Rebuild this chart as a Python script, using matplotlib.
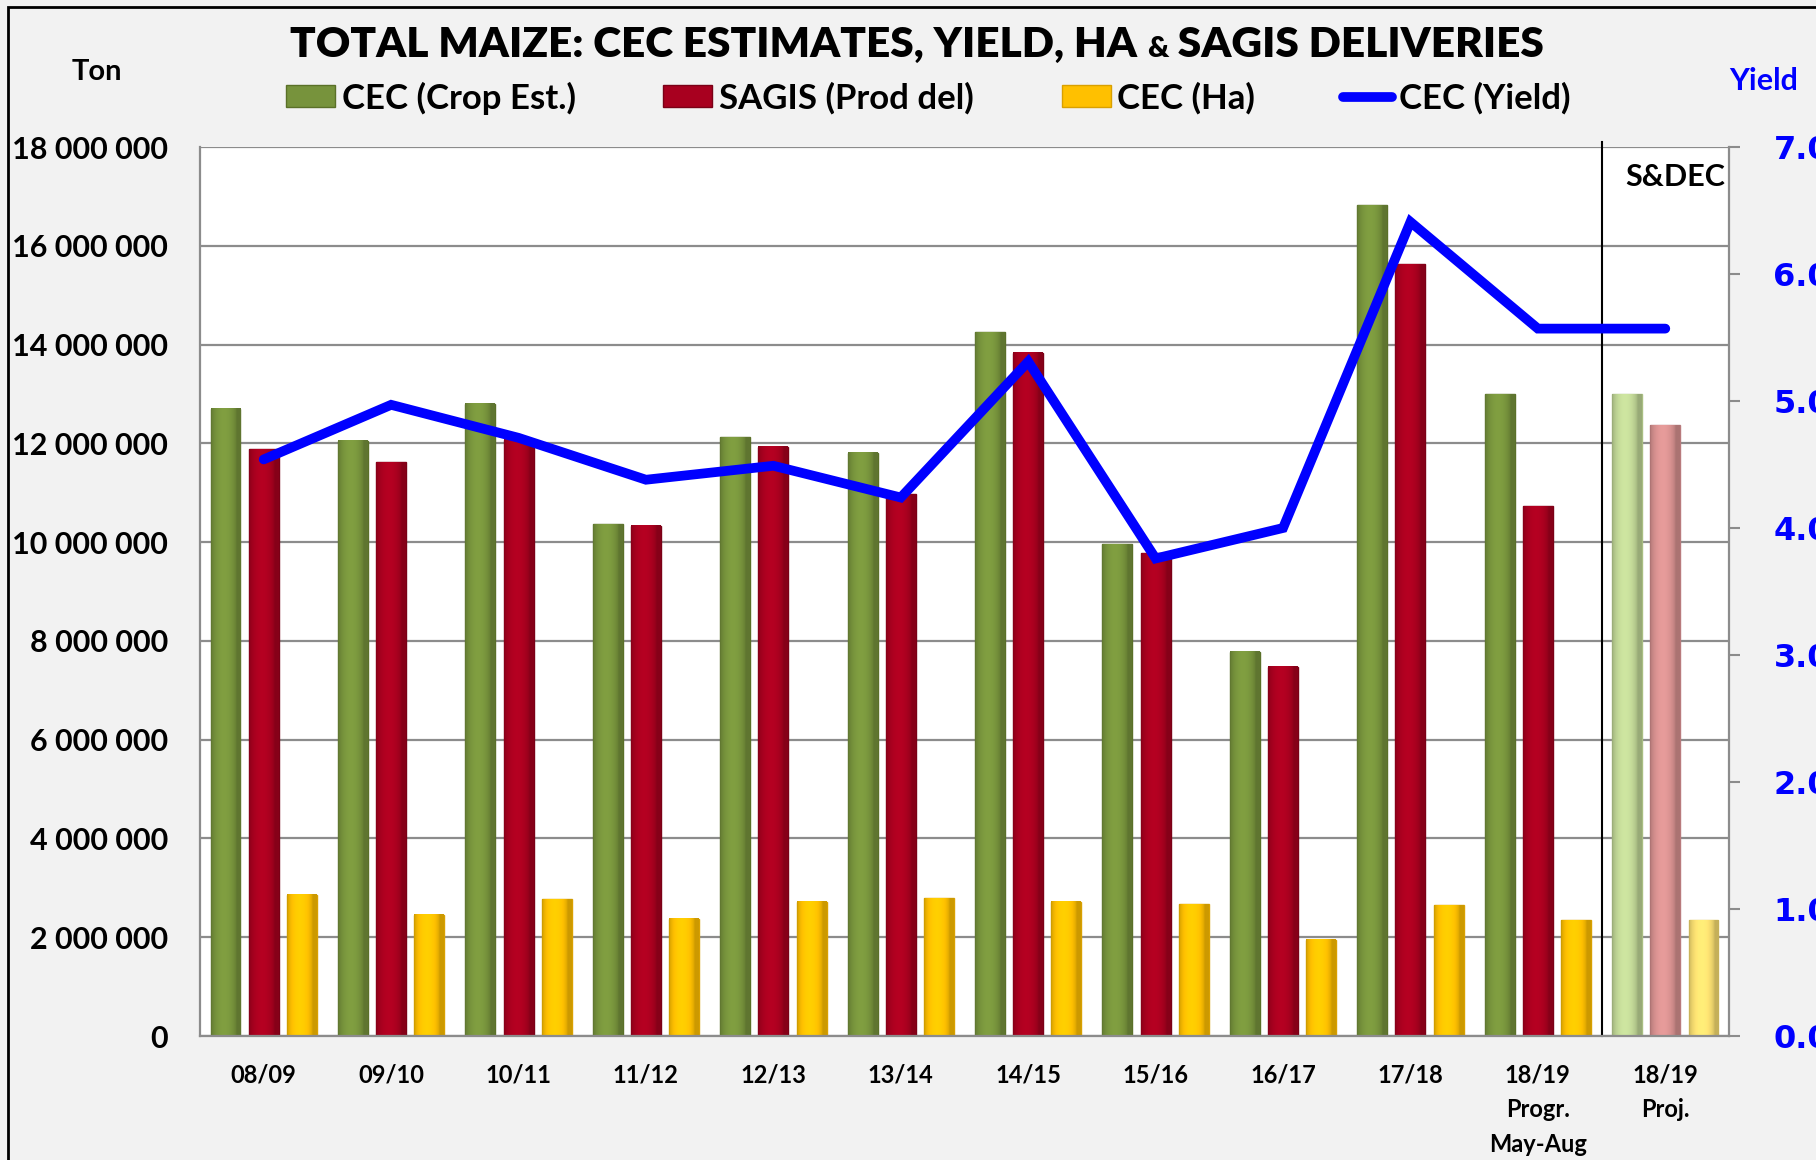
import matplotlib.pyplot as plt
from matplotlib.lines import Line2D
from matplotlib.patches import Patch, Rectangle
from matplotlib.ticker import FuncFormatter, MultipleLocator
from matplotlib.colors import to_rgb
import numpy as np

seasons = ["08/09", "09/10", "10/11", "11/12", "12/13", "13/14", "14/15",
           "15/16", "16/17", "17/18", "18/19\nProgr.\nMay-Aug", "18/19\nProj."]
crop_est = [12.70e6, 12.05e6, 12.80e6, 10.36e6, 12.12e6, 11.81e6, 14.25e6,
            9.955e6, 7.78e6, 16.82e6, 12.99e6, 12.99e6]
sagis_del = [11.88e6, 11.62e6, 12.07e6, 10.33e6, 11.93e6, 10.97e6, 13.83e6,
             9.77e6, 7.48e6, 15.63e6, 10.73e6, 12.37e6]
hectares = [2.86e6, 2.46e6, 2.77e6, 2.37e6, 2.72e6, 2.79e6, 2.72e6,
            2.67e6, 1.95e6, 2.65e6, 2.34e6, 2.34e6]
yield_t = [4.54, 4.97, 4.71, 4.38, 4.49, 4.24, 5.31, 3.76, 4.00, 6.41, 5.57, 5.57]

W, H = 1816, 1160
fig = plt.figure(figsize=(W / 100, H / 100), dpi=100, facecolor="#F2F2F2")
ax = fig.add_axes([200 / W, 1 - 1036 / H, 1529 / W, 889 / H])
ax.set_facecolor("white")

x = np.arange(len(seasons))
n = len(seasons)
green = ["#77933C"] * (n - 1) + ["#BFD595"]
red = ["#A8001F"] * (n - 1) + ["#D6908F"]
yellow = ["#FFC000"] * (n - 1) + ["#F7DD70"]
green_e = ["#5A7028"] * (n - 1) + ["#A9BE82"]
red_e = ["#7A0016"] * (n - 1) + ["#B87A7C"]
yellow_e = ["#D9A000"] * (n - 1) + ["#E0C45A"]

bw = 0.235
t = np.linspace(0, 1, 40)
shade = 0.8 + 0.28 * np.sin(np.pi * np.clip(t * 1.15, 0, 1)) ** 0.6


def shaded_bars(xs, vals, cols, edges):
    bars = ax.bar(xs, vals, bw, color=cols, edgecolor=edges, linewidth=1, zorder=2)
    for b, c in zip(bars, cols):
        rgb = np.clip(np.outer(shade, to_rgb(c)), 0, 1)[None, :, :]
        ax.imshow(rgb, extent=(b.get_x(), b.get_x() + b.get_width(), 0, b.get_height()),
                  aspect="auto", zorder=2.5, interpolation="bilinear")
    return bars


shaded_bars(x - 0.3, crop_est, green, green_e)
shaded_bars(x, sagis_del, red, red_e)
shaded_bars(x + 0.3, hectares, yellow, yellow_e)

ax.set_xlim(-0.5, n - 0.5)
ax.set_ylim(0, 18e6)
ax.yaxis.set_major_locator(MultipleLocator(2e6))
ax.yaxis.set_major_formatter(FuncFormatter(lambda v, p: f"{v:,.0f}".replace(",", " ")))
ax.grid(axis="y", color="#8C8C8C", linewidth=1.6)
ax.set_axisbelow(True)
for s in ax.spines.values():
    s.set_color("#8C8C8C")
    s.set_linewidth(1.6)
ax.spines["top"].set_visible(False)
ax.set_xticks(x)
ax.set_xticklabels(seasons, fontfamily="Lato", fontweight="bold", fontsize=17,
                   linespacing=1.6, va="top")
ax.tick_params(axis="x", length=0, pad=20)
ax.tick_params(axis="y", length=0, pad=23, labelsize=22)
for lab in ax.get_yticklabels():
    lab.set_fontfamily("Lato")
    lab.set_fontweight("bold")

ax.axvline(10.5, ymin=0, ymax=1.006, color="black", linewidth=1.5, clip_on=False)
ax.text(1725, H - 163, "S&DEC", transform=None, fontfamily="Lato", fontweight="bold",
        fontsize=22, ha="right", va="top")

ax2 = ax.twinx()
ax2.plot(x, yield_t, color="#0000FF", linewidth=7, solid_capstyle="round",
         solid_joinstyle="miter")
ax2.set_ylim(0, 7)
ax2.yaxis.set_major_locator(MultipleLocator(1))
ax2.yaxis.set_major_formatter(FuncFormatter(lambda v, p: f"{v:.1f}"))
ax2.tick_params(axis="y", direction="out", length=8, width=1.5, color="#8C8C8C",
                pad=24, labelsize=23, labelcolor="#0000FF")
for lab in ax2.get_yticklabels():
    lab.set_fontfamily("DejaVu Sans")
    lab.set_fontweight("bold")
for s in ax2.spines.values():
    s.set_visible(False)

# title with a smaller ampersand
fig.canvas.draw()
r = fig.canvas.get_renderer()
ty = 1 - 57 / H
t1 = fig.text(290 / W, ty, "TOTAL MAIZE: CEC ESTIMATES, YIELD, HA ", fontfamily="Lato",
              fontweight="heavy", fontsize=30.5, va="baseline")
bb = t1.get_window_extent(r)
t2 = fig.text(bb.x1 / W, ty, "&", fontfamily="Lato", fontweight="heavy", fontsize=21,
              va="baseline")
bb = t2.get_window_extent(r)
fig.text(bb.x1 / W, ty, " SAGIS DELIVERIES", fontfamily="Lato", fontweight="heavy",
         fontsize=30.5, va="baseline")

fig.text(97 / W, 1 - 72 / H, "Ton", fontfamily="Lato", fontweight="bold", fontsize=21,
         ha="center", va="center")
fig.text(1764 / W, 1 - 81 / H, "Yield", fontfamily="Lato", fontweight="bold", fontsize=22,
         color="#0000FF", ha="center", va="center")

handles = [Patch(facecolor="#77933C", edgecolor="#5A7028"),
           Patch(facecolor="#A8001F", edgecolor="#7A0016"),
           Patch(facecolor="#FFC000", edgecolor="#D9A000"),
           Line2D([], [], color="#0000FF", linewidth=7, solid_capstyle="round")]
labels = ["CEC (Crop Est.)", "SAGIS (Prod del)", "CEC (Ha)", "CEC (Yield)"]
fig.legend(handles, labels, ncol=4, loc="center left",
           bbox_to_anchor=(286 / W, 1 - 98 / H), frameon=False,
           prop={"family": "Lato", "weight": "bold", "size": 25},
           handlelength=1.41, handleheight=0.6, handletextpad=0.2, columnspacing=2.52,
           borderpad=0, borderaxespad=0)

fig.patches.append(Rectangle((8 / W, -0.1), 1.2, 1 - 7 / H + 0.1, transform=fig.transFigure,
                             fill=False, edgecolor="black", linewidth=2))

fig.savefig("out.png", dpi=100, facecolor=fig.get_facecolor())
